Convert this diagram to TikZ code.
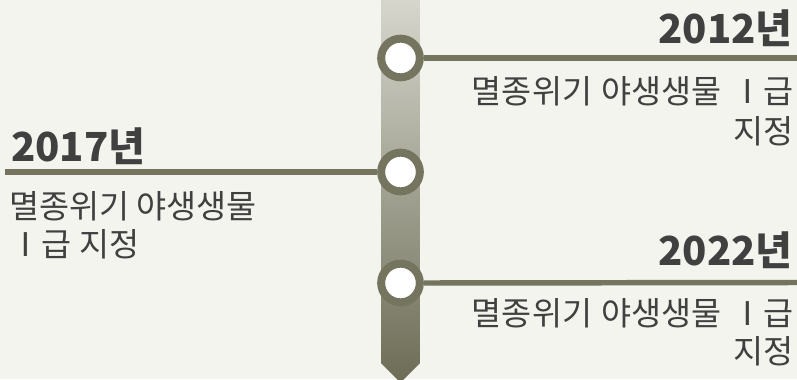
\documentclass[tikz,border=0pt]{standalone}
\usepackage{fontspec}
\setmainfont{Noto Sans CJK KR}
\definecolor{bg}{RGB}{244,244,239}
\definecolor{ring}{RGB}{117,117,95}
\definecolor{bartop}{RGB}{214,214,205}
\definecolor{barbot}{RGB}{108,108,86}
\definecolor{txt}{RGB}{64,64,64}
\tikzset{
  yearlbl/.style={inner sep=0pt, text=txt, font=\fontsize{30}{36}\selectfont\bfseries},
  bodylbl/.style={inner sep=0pt, text=txt, font=\fontsize{24.5}{30}\selectfont},
  dot/.style={circle, draw=ring, line width=6pt, fill=white, minimum size=29pt, inner sep=0pt},
  linkline/.style={draw=ring, line width=4.1pt}
}
\begin{document}
\begin{tikzpicture}[x=0.75pt,y=-0.75pt]
\fill[bg] (0,0) rectangle (797,379);
\useasboundingbox (0,0) rectangle (797,379);
\begin{scope}
\clip (0,0) rectangle (797,379);
\shade[top color=bartop, bottom color=barbot] (381,0) -- (381,363) -- (400.5,382.5) -- (420,363) -- (420,0) -- cycle;
\end{scope}
% circles
\node[dot] (c1) at (400.5,58) {};
\node[dot] (c2) at (400.5,172) {};
\node[dot] (c3) at (400.5,283) {};
\coordinate (e1) at (797,58);
\coordinate (e2) at (5,172);
\coordinate (e3) at (797,282.5);
\draw[linkline] (c1.east) -- (e1);
\draw[linkline] (c2.west) -- (e2);
\draw[linkline] (c3.east) -- (e3);
% labels
\node[yearlbl, anchor=base east] (y1) at (793,43.5) {2012년};
\node[bodylbl, anchor=base east] (b1a) at (794,103) {멸종위기\hspace{7pt}야생생물\hspace{7pt}Ⅰ급};
\node[bodylbl, anchor=base east] (b1b) at (794,143) {지정};
\node[yearlbl, anchor=base west] (y2) at (11,161.5) {2017년};
\node[bodylbl, anchor=base west] (b2a) at (9,218) {멸종위기 야생생물};
\node[bodylbl, anchor=base west] (b2b) at (9,256) {Ⅰ급 지정};
\node[yearlbl, anchor=base east] (y3) at (793,265) {2022년};
\node[bodylbl, anchor=base east] (b3a) at (794,325) {멸종위기\hspace{7pt}야생생물\hspace{7pt}Ⅰ급};
\node[bodylbl, anchor=base east] (b3b) at (794,363) {지정};
\end{tikzpicture}
\end{document}
